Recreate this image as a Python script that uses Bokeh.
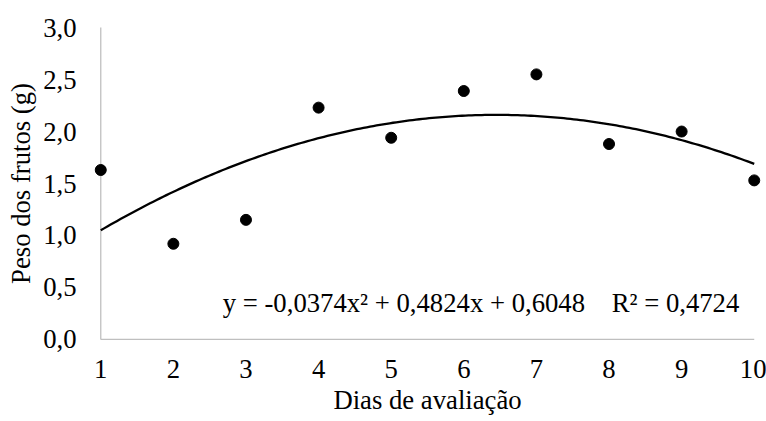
import numpy as np
from bokeh.plotting import figure
from bokeh.models import Range1d, Label, FixedTicker, CustomJSTickFormatter, ColumnDataSource
from bokeh.embed import file_html
from bokeh.resources import INLINE

# Data
dias = [1, 2, 3, 4, 5, 6, 7, 8, 9, 10]
peso = [1.63, 0.92, 1.15, 2.23, 1.94, 2.39, 2.55, 1.88, 2.00, 1.53]
coef = [-0.0374, 0.4824, 0.6048]   # trendline y = a x^2 + b x + c
y_ticks = [0.0, 0.5, 1.0, 1.5, 2.0, 2.5, 3.0]
NBSP4 = "\u00a0\u00a0\u00a0\u00a0"
equation = "y = -0,0374x\u00b2 + 0,4824x + 0,6048" + NBSP4 + "R\u00b2 = 0,4724"

FONT = "'Liberation Serif', 'DejaVu Serif', serif"
FS = "26.7px"
AXIS_GREY = "#bfbfbf"

p = figure(width=766, height=421, output_backend="svg", toolbar_location=None,
           x_range=Range1d(0.9, 10.1), y_range=Range1d(-0.03, 3.03),
           min_border_left=93, min_border_right=5, min_border_top=24, min_border_bottom=79)
p.outline_line_color = None
p.xgrid.visible = False
p.ygrid.visible = False
p.background_fill_color = "white"
p.border_fill_color = "white"

# axes (ticks/labels only; lines drawn as segments)
for ax in (p.xaxis[0], p.yaxis[0]):
    ax.axis_line_color = None
    ax.major_tick_line_color = None
    ax.minor_tick_line_color = None
    ax.major_label_text_font = FONT
    ax.major_label_text_font_size = FS
    ax.major_label_text_color = "#000000"
    ax.axis_label_text_font = FONT
    ax.axis_label_text_font_size = FS
    ax.axis_label_text_font_style = "normal"
    ax.axis_label_text_color = "#000000"

p.xaxis[0].ticker = FixedTicker(ticks=dias)
p.xaxis[0].major_label_standoff = 11
p.xaxis[0].axis_label = "Dias de avaliação"
p.xaxis[0].axis_label_standoff = 4

p.yaxis[0].ticker = FixedTicker(ticks=y_ticks)
p.yaxis[0].formatter = CustomJSTickFormatter(code="return tick.toFixed(1).replace('.', ',');")
p.yaxis[0].major_label_standoff = 11
p.yaxis[0].axis_label = "Peso dos frutos (g)"
p.yaxis[0].axis_label_standoff = 4

# axis lines
axsrc = ColumnDataSource(dict(x0=[dias[0], dias[0]], y0=[y_ticks[0], y_ticks[0]],
                              x1=[dias[-1], dias[0]], y1=[y_ticks[0], y_ticks[-1]]))
p.segment(x0="x0", y0="y0", x1="x1", y1="y1", source=axsrc, line_color=AXIS_GREY, line_width=1.3)

# trendline
xs = np.linspace(dias[0], dias[-1], 200)
ys = coef[0] * xs**2 + coef[1] * xs + coef[2]
p.line(xs, ys, line_color="black", line_width=2.3)

# points
p.scatter(dias, peso, size=11, fill_color="black", line_color="black")

# equation
p.add_layout(Label(x=2.68, y=0.346, text=equation, text_align="left", text_baseline="alphabetic",
                   text_font=FONT, text_font_size=FS, text_color="#000000"))

open("out.html", "w").write(file_html(p, INLINE))
